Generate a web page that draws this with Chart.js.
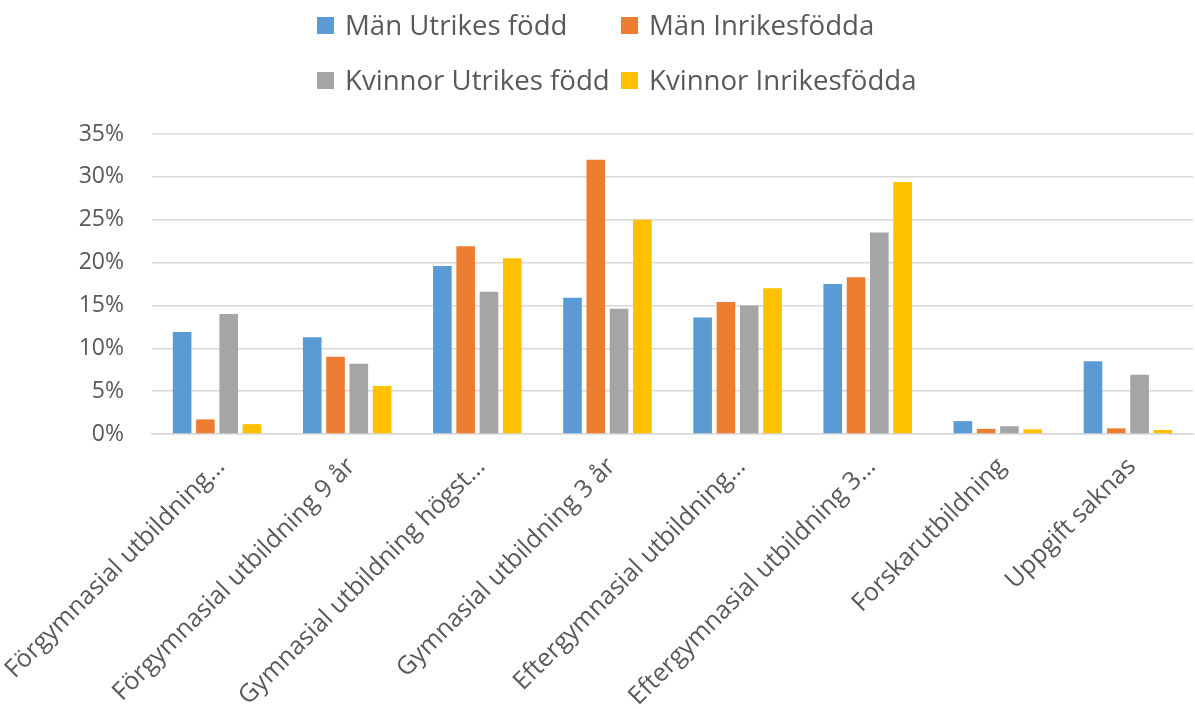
<!DOCTYPE html>
<html>
<head>
<meta charset="utf-8">
<script src="https://cdn.jsdelivr.net/npm/chart.js@4/dist/chart.umd.min.js"></script>
<style>
  html, body { margin: 0; padding: 0; background: #ffffff; }
  #wrap { position: relative; width: 1195px; height: 709px; }
  #legend { position: absolute; left: 0; top: 0; width: 1195px; height: 110px; font-family: "Open Sans", sans-serif; color: #595959; }
  .li { position: absolute; display: flex; align-items: center; font-size: 27.6px; white-space: nowrap; line-height: 1; }
  .sw { width: 17px; height: 17px; margin-right: 11px; flex: none; }
</style>
</head>
<body>
<div id="wrap">
  <canvas id="c" width="1195" height="709"></canvas>
  <div id="legend"></div>
</div>
<script>
const categories = [
  "Förgymnasial utbildning…",
  "Förgymnasial utbildning 9 år",
  "Gymnasial utbildning högst…",
  "Gymnasial utbildning 3 år",
  "Eftergymnasial utbildning…",
  "Eftergymnasial utbildning 3…",
  "Forskarutbildning",
  "Uppgift saknas"
];
const seriesNames = ["Män Utrikes född", "Män Inrikesfödda", "Kvinnor Utrikes född", "Kvinnor Inrikesfödda"];
const manUtrikes = [11.9, 11.3, 19.6, 15.9, 13.6, 17.5, 1.5, 8.5];
const manInrikes = [1.7, 9.0, 21.9, 32.0, 15.4, 18.3, 0.6, 0.66];
const kvinnorUtrikes = [14.0, 8.2, 16.6, 14.6, 15.0, 23.5, 0.9, 6.9];
const kvinnorInrikes = [1.15, 5.6, 20.5, 25.0, 17.0, 29.4, 0.55, 0.47];
const yTicks = [0, 5, 10, 15, 20, 25, 30, 35];
const colors = ["#5B9BD5", "#ED7D31", "#A5A5A5", "#FFC000"];

const seriesData = [manUtrikes, manInrikes, kvinnorUtrikes, kvinnorInrikes];
const datasets = seriesNames.map((name, i) => ({
  label: name,
  data: seriesData[i],
  backgroundColor: colors[i],
  borderWidth: 0,
  categoryPercentage: 0.716,
  barPercentage: 0.80
}));

const FONT = '"Open Sans", sans-serif';
const chart = new Chart(document.getElementById('c'), {
  type: 'bar',
  data: { labels: categories, datasets: datasets },
  options: {
    responsive: false,
    animation: false,
    devicePixelRatio: 1,
    layout: { padding: { top: 134, right: 2, left: 0, bottom: 0 } },
    plugins: { legend: { display: false }, tooltip: { enabled: false } },
    scales: {
      x: {
        grid: { display: false, drawTicks: false },
        border: { display: true, color: '#D9D9D9', width: 1.5 },
        ticks: {
          color: '#595959',
          font: { family: FONT, size: 25 },
          maxRotation: 45, minRotation: 45,
          autoSkip: false,
          padding: 18,
          labelOffset: 4
        },
        afterFit: (s) => { s.height = 275; s.paddingLeft = 0; s.paddingRight = 0; }
      },
      y: {
        min: 0, max: 35,
        afterBuildTicks: (s) => { s.ticks = yTicks.map(v => ({ value: v })); },
        grid: { color: '#D9D9D9', lineWidth: 1.5, drawTicks: false },
        border: { display: false },
        ticks: {
          color: '#595959',
          font: { family: FONT, size: 23 },
          padding: 28,
          callback: (v) => v + '%'
        },
        afterFit: (s) => { s.width = 152; }
      }
    }
  }
});

// Legend (2x2 grid) built from the chart datasets
const legendPos = [[317, 25], [621, 25], [317, 80], [621, 80]];
const lg = document.getElementById('legend');
chart.data.datasets.forEach((ds, i) => {
  const el = document.createElement('div');
  el.className = 'li';
  el.style.left = legendPos[i][0] + 'px';
  el.style.top = (legendPos[i][1] - 14) + 'px';
  el.style.height = '28px';
  const sw = document.createElement('span');
  sw.className = 'sw';
  sw.style.background = ds.backgroundColor;
  const tx = document.createElement('span');
  tx.textContent = ds.label;
  el.appendChild(sw); el.appendChild(tx);
  lg.appendChild(el);
});
</script>
</body>
</html>
